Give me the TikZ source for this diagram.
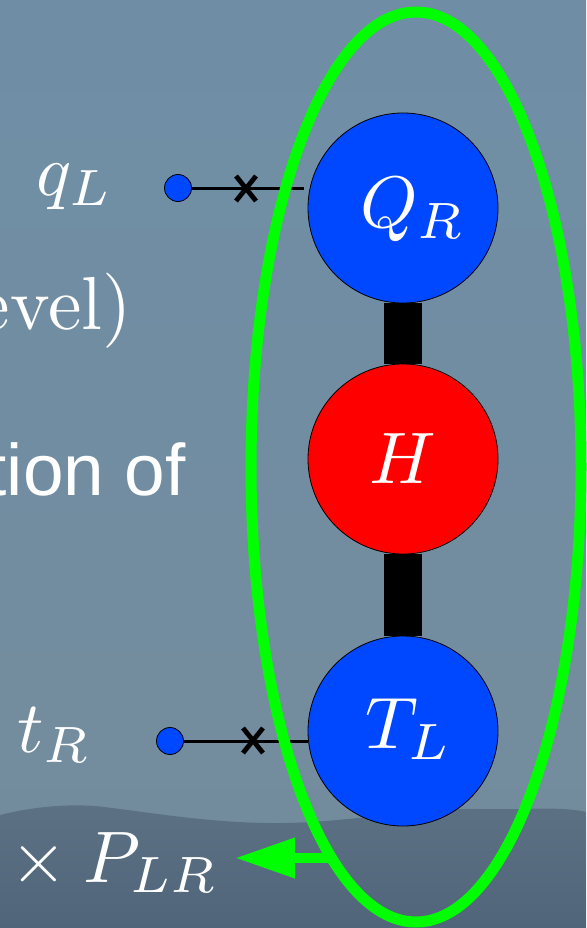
\documentclass[tikz,border=0pt]{standalone}
\usepackage{fontspec}
\newfontfamily\helv{Liberation Sans}
\usetikzlibrary{arrows.meta}
\definecolor{nblue}{RGB}{0,72,255}
\definecolor{ngreen}{RGB}{0,255,0}
\definecolor{skytop}{RGB}{111,142,166}
\definecolor{skymid}{RGB}{122,150,166}
\definecolor{skylow}{RGB}{116,140,156}
\definecolor{mounttop}{RGB}{92,113,132}
\definecolor{mountlow}{RGB}{80,101,121}
\pgfdeclarelayer{back}
\pgfsetlayers{back,main}
\begin{document}
\begin{tikzpicture}[x=1pt,y=-1pt,
  bigc/.style={circle,draw=black,line width=0.8pt,minimum size=190pt,inner sep=0pt},
  dotc/.style={circle,draw=black,line width=0.8pt,fill=nblue,minimum size=27pt,inner sep=0pt},
  lbl/.style={text=white,scale=7.3,inner sep=0pt},
  conn/.style={line width=3pt},
  crossm/.style={line width=4.8pt},
  barc/.style={line width=38pt},
  ring/.style={draw=ngreen,line width=11pt},
  garrow/.style={draw=ngreen,line width=10pt,-{Triangle[length=60pt,width=38pt]}}]
\useasboundingbox (0,0) rectangle (586,928);
\begin{pgfonlayer}{back}
\shade[top color=skytop,middle color=skymid,bottom color=skylow] (0,0) rectangle (586,928);
\shade[top color=mounttop,bottom color=mountlow]
  (0,815) .. controls (40,805) and (80,803) .. (112,808)
  .. controls (160,814) and (220,824) .. (285,823)
  .. controls (350,822) and (420,808) .. (480,809)
  .. controls (530,810) and (560,806) .. (586,812)
  -- (586,928) -- (0,928) -- cycle;
\end{pgfonlayer}

% left texts
\node[lbl,anchor=base] (ql) at (75,195) {$q_L$};
\node[lbl,scale=1.03,anchor=base east] (evel) at (133,329) {evel)};
\node[lbl,anchor=base east,font=\helv] (tion) at (187,495) {tion of};
\node[lbl,anchor=base west] (tr) at (16,752) {$t_R$};
\node[lbl,anchor=base west] (plr) at (9,882) {$\times\:P_{LR}$};

% big circles
\node[bigc,fill=nblue,label={[xshift=10pt,yshift=-2pt,lbl]center:$Q_R$}] (Q) at (403,208) {};
\node[bigc,fill=red,label={[lbl]center:$H$}] (H) at (403,459) {};
\node[bigc,fill=nblue,label={[xshift=6pt,yshift=2pt,lbl]center:$T_L$}] (T) at (403,731) {};
\begin{pgfonlayer}{back}
\draw[barc] (Q) -- (H);
\draw[barc] (H) -- (T);
\end{pgfonlayer}

% small dots and connectors
\node[dotc] (qd) at (178,188) {};
\node[dotc] (td) at (170,741) {};
\coordinate (qe) at (304,188);
\coordinate (te) at (308,741);
\draw[conn] (qd) -- (qe);
\draw[conn] (td) -- (te);
\draw[crossm] (236,176) -- (256,201) (256,176) -- (236,201);
\draw[crossm] (243,728) -- (263,753) (263,728) -- (243,753);

% green ring and arrow
\coordinate (ea) at (332,858);
\coordinate (tip) at (235,858);
\draw[garrow] (ea) -- (tip);
\draw[ring] (416,467) ellipse [x radius=165, y radius=455];
\end{tikzpicture}
\end{document}
